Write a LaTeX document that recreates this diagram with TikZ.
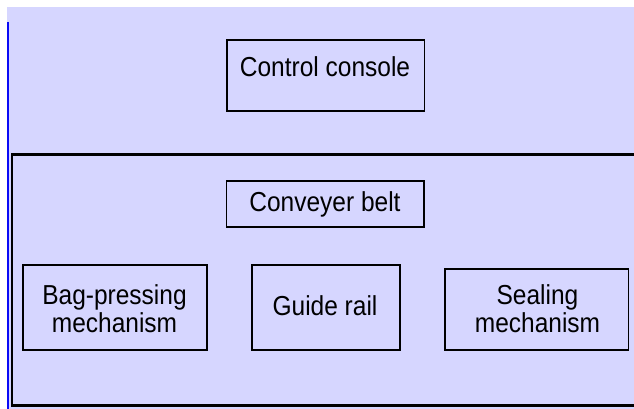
\documentclass[tikz,border=0pt]{standalone}
\usepackage{fontspec}
\usepackage{graphicx}
\setmainfont{Liberation Sans}
\definecolor{lav}{RGB}{214,214,255}
\definecolor{edgeblue}{RGB}{10,10,245}
\newcommand{\tallt}[1]{\scalebox{1}[1.12]{#1}}
\begin{document}
\begin{tikzpicture}[x=1pt,y=-1pt,
  box/.style={draw=black, line width=1.6pt, inner sep=0pt, anchor=north west},
  lbl/.style={font=\fontsize{24.5}{24.1}\selectfont, anchor=base, inner sep=0pt}]
\useasboundingbox (0,0) rectangle (634,409);
\clip (0,0) rectangle (634,409);
\fill[white] (0,0) rectangle (634,409);
\fill[lav] (7,7) rectangle (634,409);
\draw[edgeblue, line width=2pt] (8,22) -- (8,412);
\draw[line width=2.4pt] (645,154.5) -- (12,154.5) -- (12,405.5) -- (645,405.5);
% boxes
\node[box, minimum width=197.5pt, minimum height=71pt] (console) at (226,39) {};
\node[box, minimum width=197.5pt, minimum height=46pt] (belt) at (225.7,180) {};
\node[box, minimum width=184pt, minimum height=85pt] (bag) at (22,264) {};
\node[box, minimum width=148pt, minimum height=85pt] (rail) at (251,264) {};
\node[box, minimum width=183.7pt, minimum height=81pt] (seal) at (444,268) {};
% labels
\node[lbl] (consoletxt) at (325,77) {\tallt{Control console}};
\node[lbl] (belttxt) at (325,211.5) {\tallt{Conveyer belt}};
\node[lbl] (bagtxt) at (114.5,332) {\tallt{\begin{tabular}[b]{@{}c@{}}Bag-pressing\\mechanism\end{tabular}}};
\node[lbl] (railtxt) at (325,315) {\tallt{Guide rail}};
\node[lbl] (sealtxt) at (537.5,332) {\tallt{\begin{tabular}[b]{@{}c@{}}Sealing\\mechanism\end{tabular}}};
\end{tikzpicture}
\end{document}
